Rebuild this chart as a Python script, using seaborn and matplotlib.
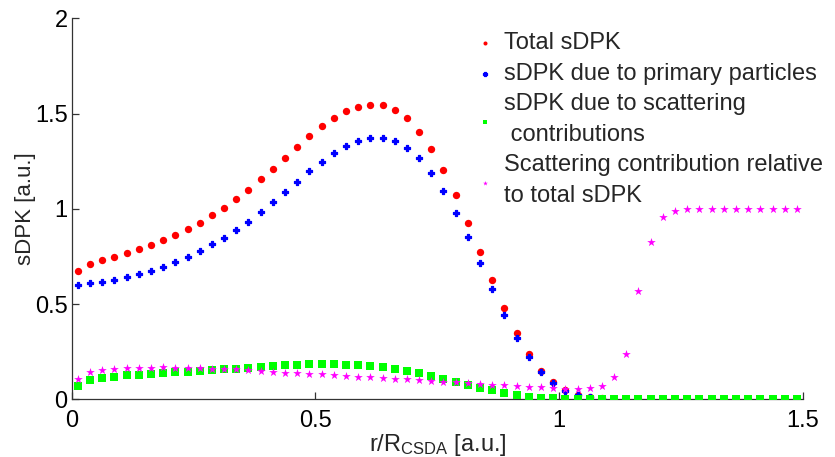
import numpy as np
import pandas as pd
import matplotlib
matplotlib.use("Agg")
import matplotlib.pyplot as plt
import seaborn as sns

# radial bins (bin centres) in units of the CSDA range
r = np.arange(60) * 0.025 + 0.0125

total = [0.673, 0.710, 0.729, 0.748, 0.767, 0.787, 0.809, 0.835, 0.863, 0.895,
         0.926, 0.965, 1.003, 1.050, 1.101, 1.154, 1.210, 1.264, 1.325, 1.381,
         1.432, 1.477, 1.512, 1.536, 1.547, 1.543, 1.519, 1.474, 1.404, 1.315,
         1.201, 1.073, 0.926, 0.774, 0.624, 0.481, 0.348, 0.236, 0.151, 0.089,
         0.049, 0.025, 0.014, 0.006]
primary = [0.600, 0.608, 0.617, 0.627, 0.643, 0.659, 0.675, 0.697, 0.720, 0.748,
           0.778, 0.813, 0.849, 0.890, 0.933, 0.984, 1.038, 1.089, 1.143, 1.197,
           1.248, 1.292, 1.329, 1.357, 1.372, 1.372, 1.357, 1.321, 1.267, 1.189,
           1.094, 0.979, 0.853, 0.717, 0.577, 0.444, 0.324, 0.220, 0.142, 0.083,
           0.044, 0.021, 0.010, 0.004]
scatter = [0.072, 0.100, 0.112, 0.119, 0.126, 0.129, 0.135, 0.138, 0.142, 0.145,
           0.150, 0.154, 0.157, 0.161, 0.166, 0.170, 0.175, 0.178, 0.182, 0.184,
           0.185, 0.185, 0.182, 0.180, 0.177, 0.170, 0.161, 0.150, 0.138, 0.124,
           0.108, 0.091, 0.077, 0.061, 0.047, 0.033, 0.021, 0.012, 0.009, 0.007,
           0.004, 0.004, 0.003, 0.003, 0.002, 0.002, 0.002, 0.002, 0.002, 0.002,
           0.002, 0.002, 0.002, 0.002, 0.002, 0.002, 0.002, 0.002, 0.002, 0.002]
relative = [0.108, 0.143, 0.156, 0.159, 0.163, 0.166, 0.166, 0.171, 0.166, 0.166,
            0.163, 0.161, 0.157, 0.157, 0.152, 0.147, 0.143, 0.140, 0.136, 0.135,
            0.133, 0.129, 0.124, 0.119, 0.115, 0.112, 0.108, 0.105, 0.101, 0.096,
            0.092, 0.089, 0.084, 0.080, 0.077, 0.073, 0.070, 0.066, 0.063, 0.059,
            0.054, 0.054, 0.058, 0.070, 0.115, 0.238, 0.566, 0.825, 0.958, 0.987,
            1.000, 1.000, 1.000, 1.000, 1.000, 1.000, 1.000, 1.000, 1.000, 1.000]

labels = ["Total sDPK",
          "sDPK due to primary particles",
          "sDPK due to scattering\n contributions",
          "Scattering contribution relative\nto total sDPK"]
x_ticks = [0, 0.5, 1, 1.5]
x_ticklabels = ["0", "0.5", "1", "1.5"]
y_ticks = [0, 0.5, 1, 1.5, 2]
y_ticklabels = ["0", "0.5", "1", "1.5", "2"]

sns.set_theme(style="ticks")
plt.rcParams["font.family"] = ["Liberation Sans", "DejaVu Sans"]
plt.rcParams["mathtext.fontset"] = "custom"
plt.rcParams["mathtext.rm"] = "Liberation Sans"
plt.rcParams["mathtext.it"] = "Liberation Sans:italic"

fig = plt.figure(figsize=(8.35, 4.57), dpi=100)
ax = fig.add_axes([0.0859, 0.1263, 0.8758, 0.8337])

# colour, marker, size, edge width for each series
series = [
    (r[:len(total)], total, "#ff0000", "o", 28, 0.0),
    (r[:len(primary)], primary, "#0000ff", "P", 16, 0.9),
    (r, scatter, "#00ff00", "s", 30, 0.0),
    (r, relative, "#ff00ff", "*", 42, 0.0),
]
for (xs, ys, col, mk, sz, lw), lab in zip(series, labels):
    df = pd.DataFrame({"r": xs, "v": ys})
    sns.scatterplot(data=df, x="r", y="v", ax=ax, color=col, marker=mk, s=sz,
                    linewidth=lw, edgecolor=col, label=lab, zorder=3)

ax.set_xlim(0, 1.5)
ax.set_ylim(0, 2)
ax.set_xticks(x_ticks, x_ticklabels)
ax.set_yticks(y_ticks, y_ticklabels)
ax.tick_params(axis="both", direction="in", length=5, width=0.9, color="#333333",
               labelsize=17, labelcolor="black")
ax.tick_params(axis="x", pad=8)
ax.tick_params(axis="y", pad=3)
for side in ("top", "right"):
    ax.spines[side].set_visible(False)
for side in ("left", "bottom"):
    ax.spines[side].set_color("#333333")
    ax.spines[side].set_linewidth(0.9)

ax.set_xlabel(r"r/R$_{\rm CSDA}$ [a.u.]", fontsize=17, labelpad=0)
ax.set_ylabel("sDPK [a.u.]", fontsize=16, labelpad=-1)

leg = ax.legend(loc="upper left", bbox_to_anchor=(0.556, 0.963), frameon=False,
                fontsize=17, markerscale=0.55, handlelength=0.6,
                handletextpad=0.5, labelspacing=0.36, borderpad=0, borderaxespad=0)
for t in leg.get_texts():
    t.set_linespacing(1.5)

fig.savefig("out.png", dpi=100, facecolor="white")
